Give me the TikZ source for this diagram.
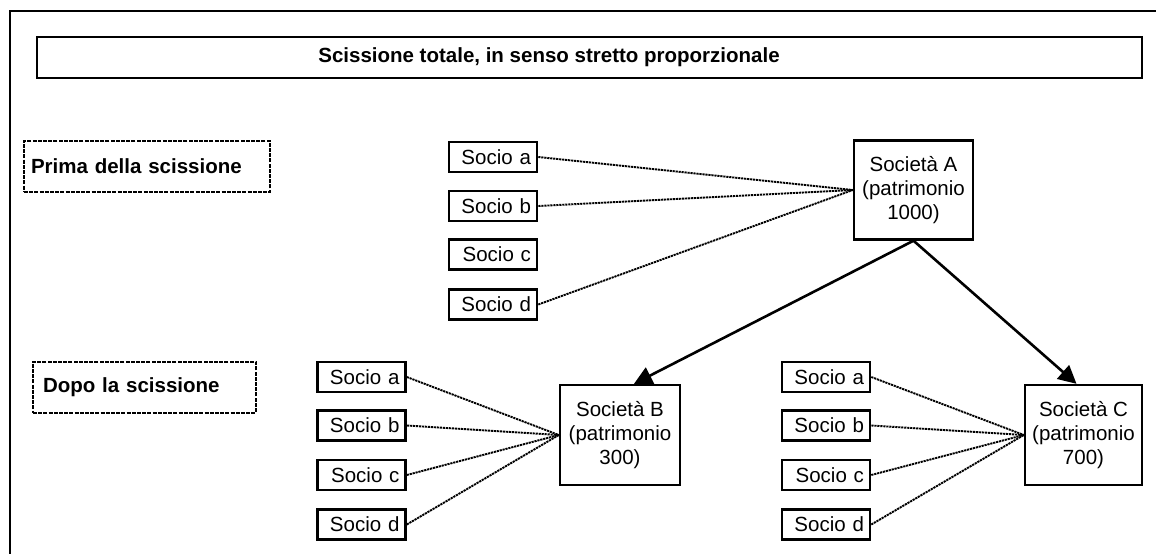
\documentclass[tikz,border=0pt]{standalone}
\usepackage{fontspec}
\setmainfont{Liberation Sans}
\usetikzlibrary{arrows.meta}
\begin{document}
\begin{tikzpicture}[x=1pt,y=-1pt,
  every node/.style={font=\fontsize{20.5}{24}\selectfont},
  socio/.style={draw, line width=2.6pt, minimum height=30pt, text width=76pt,
    align=right, inner xsep=6pt, inner ysep=0pt},
  societa/.style={draw, line width=2.4pt, minimum width=119pt, minimum height=99pt,
    align=center, inner sep=0pt},
  phase/.style={draw, line width=2pt, dash pattern=on 4pt off 1.2pt,
    align=left, minimum height=51pt, inner ysep=0pt, font=\fontsize{20.5}{24}\selectfont\bfseries},
  link/.style={line width=1.9pt, dash pattern=on 2.2pt off 0.8pt},
  flow/.style={line width=2.6pt, -{Triangle[length=18pt,width=18pt]}},
  frame/.style={line width=1.8pt}
]
\useasboundingbox (0,0) rectangle (1156,554);

% page frame (top and left edges)
\draw[frame] (1156,11) -- (10,11) -- (10,554);

% title bar
\node[draw, frame, minimum width=1105pt, minimum height=41pt, inner sep=0pt] (titlebox) at (589.5,57.5) {};
\node[font=\fontsize{20.5}{24}\selectfont\bfseries] (titletext) at (549,57) {Scissione totale, in senso stretto proporzionale};

% phase labels
\node[phase, text width=232pt, inner xsep=7pt] (prima) at (147,166.5) {Prima della scissione};
\node[phase, text width=203pt, inner xsep=10pt] (dopo) at (144.5,387) {Dopo la scissione};

% before the demerger
\node[societa] (A) at (913.5,190) {Società A\\(patrimonio\\1000)};
\node[socio] (pa) at (493,157) {Socio a};
\node[socio] (pb) at (493,206) {Socio b};
\node[socio] (pc) at (493,254.5) {Socio c};
\node[socio] (pd) at (493,304.5) {Socio d};

% after the demerger: company B
\node[societa, minimum width=120pt, minimum height=100pt] (B) at (620,435) {Società B\\(patrimonio\\300)};
\node[socio] (ba) at (361.5,377) {Socio a};
\node[socio] (bb) at (361.5,425.5) {Socio b};
\node[socio] (bc) at (361.5,475) {Socio c};
\node[socio] (bd) at (361.5,524.5) {Socio d};

% after the demerger: company C
\node[societa, minimum width=117pt, minimum height=100pt] (C) at (1083.5,435) {Società C\\(patrimonio\\700)};
\node[socio] (ca) at (826,377) {Socio a};
\node[socio] (cb) at (826,425.5) {Socio b};
\node[socio] (cc) at (826,475) {Socio c};
\node[socio] (cd) at (826,524.5) {Socio d};

% shareholdings
\draw[link] (pa.east) -- (A.west);
\draw[link] (pb.east) -- (A.west);
\draw[link] (pd.east) -- (A.west);
\foreach \s in {ba,bb,bc,bd} \draw[link] (\s.east) -- (B.west);
\foreach \s in {ca,cb,cc,cd} \draw[link] (\s.east) -- (C.west);

% transfer of assets
\draw[flow] (A.south) -- ([xshift=14pt]B.north);
\draw[flow] (A.south) -- ([xshift=-7pt]C.north);
\end{tikzpicture}
\end{document}
